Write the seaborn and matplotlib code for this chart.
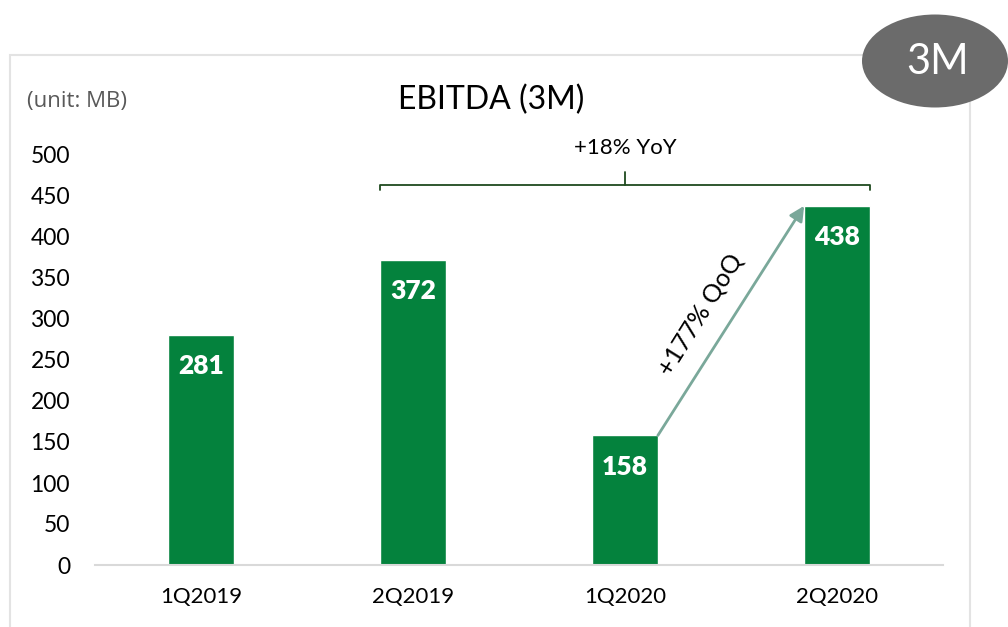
import pandas as pd
import matplotlib.pyplot as plt
import seaborn as sns
from matplotlib.patches import Ellipse, Rectangle

# data
quarters = ['1Q2019', '2Q2019', '1Q2020', '2Q2020']
ebitda = [281, 372, 158, 438]
y_ticks = [0, 50, 100, 150, 200, 250, 300, 350, 400, 450, 500]
yoy_text = '+18% YoY'
qoq_text = '+177% QoQ'

BAR_GREEN = '#04823D'

sns.set_theme(style='white')
plt.rcParams['font.family'] = ['Lato', 'DejaVu Sans']
plt.rcParams['text.color'] = 'black'

df = pd.DataFrame({'quarter': quarters, 'ebitda': ebitda})

fig = plt.figure(figsize=(10.08, 6.27), dpi=100)
ax = fig.add_axes([95 / 1008, 1 - 565 / 627, (943 - 95) / 1008, (565 - 155) / 627])

sns.barplot(data=df, x='quarter', y='ebitda', color=BAR_GREEN, saturation=1,
            width=0.31, ax=ax)

ax.set_xlim(-0.5, 3.5)
ax.set_ylim(0, 500)
ax.set_yticks(y_ticks)
ax.set_xlabel('')
ax.set_ylabel('')
ax.tick_params(axis='y', labelsize=16.5, length=0, pad=18, colors='black')
ax.tick_params(axis='x', labelsize=16, length=0, pad=16, colors='black')
sns.despine(ax=ax, left=True, top=True, right=True)
ax.spines['bottom'].set_color('#d9d9d9')
ax.spines['bottom'].set_linewidth(1.5)

# value labels inside bars
for i, v in enumerate(ebitda):
    ax.text(i, v - 38, str(v), ha='center', va='center', color='white',
            fontsize=19, fontweight='heavy')

# bracket for YoY
half = 0.31 / 2
x0, x1 = 1 - half, 3 + half
xm = (x0 + x1) / 2
ax.plot([x0, x0, x1, x1], [457, 463, 463, 457], color='#1f4a1f', lw=1.3, clip_on=False)
ax.plot([xm, xm], [463, 479], color='#1f4a1f', lw=1.3, clip_on=False)
ax.text(xm, 508, yoy_text, ha='center', va='center', fontsize=16, clip_on=False)

# QoQ arrow
ax.annotate('', xy=(2 + 1 - half, ebitda[3]), xytext=(2 + half, ebitda[2]),
            arrowprops=dict(arrowstyle='-|>', color='#7aa89a', lw=2,
                            mutation_scale=22, shrinkA=0, shrinkB=0))
ax.text(2.355, 306, qoq_text, ha='center', va='center', rotation=58, fontsize=18)

# title and unit
fig.text(491 / 1008, 1 - 100 / 627, 'EBITDA (3M)', ha='center', va='center', fontsize=23)
fig.text(27 / 1008, 1 - 101 / 627, '(unit: MB)', ha='left', va='center', fontsize=16,
         color='#595959', family=['Open Sans', 'DejaVu Sans'])

# outer frame
fig.patches.append(Rectangle((10 / 1008, -0.02), (970 - 10) / 1008, 1 - 55 / 627 + 0.02,
                             transform=fig.transFigure, fill=False,
                             edgecolor='#e3e3e3', lw=1.5, zorder=0))

# grey badge
fig.patches.append(Ellipse((935 / 1008, 1 - 61 / 627), 146 / 1008, 93 / 627,
                           transform=fig.transFigure, facecolor='#6b6b6b',
                           edgecolor='none', zorder=5))
fig.text(938 / 1008, 1 - 62 / 627, '3M', ha='center', va='center', fontsize=30,
         color='white', zorder=6)

plt.savefig('out.png', dpi=100)
